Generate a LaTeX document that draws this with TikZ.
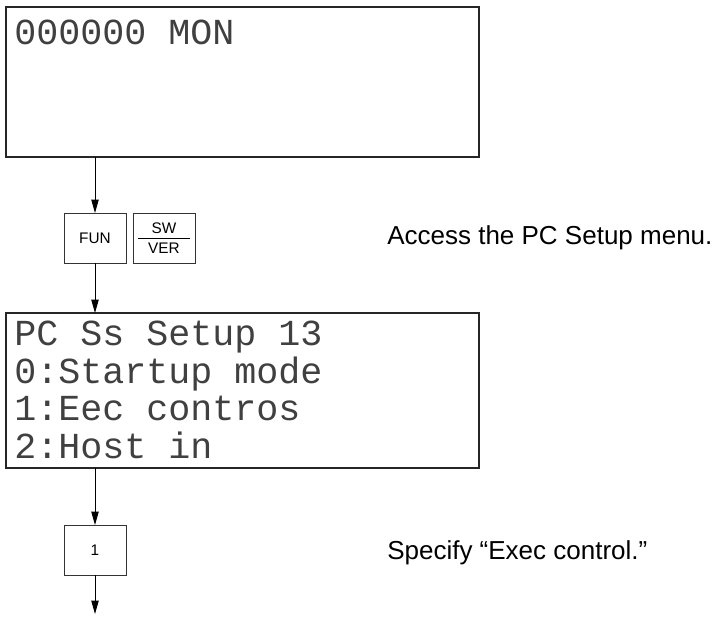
\documentclass[tikz,border=0pt]{standalone}
\usepackage{fontspec}
\setmainfont{Liberation Sans}
\newfontfamily\lcdfont{Liberation Mono}
\usetikzlibrary{arrows.meta}

\begin{document}
\begin{tikzpicture}[x=0.75pt, y=-0.75pt,
  screen/.style={draw=black!85, line width=0.9pt, minimum width=354.75pt, inner sep=0pt, outer sep=0pt},
  key/.style={draw=black!80, line width=0.7pt, minimum width=46.5pt, minimum height=37.5pt, inner sep=0pt, outer sep=0pt, font=\fontsize{11.5}{13.5}\selectfont},
  lcdline/.style={anchor=base west, inner sep=0pt, text=black!75, font=\lcdfont\fontsize{27.5}{28}\selectfont},
  note/.style={anchor=base west, inner sep=0pt, font=\fontsize{19.5}{23}\selectfont},
  flow/.style={-{Triangle[length=10pt, width=5.5pt]}, line width=0.6pt}]
  \useasboundingbox (0,0) rectangle (720,623);
  % Monitor display
  \node[screen, minimum height=112.5pt] (scrMon) at (242.5,82) {};
  \node[lcdline] (lcdMon) at (14,45) {000000 MON};
  % FUN, SW/VER
  \node[key] (keyFun) at (95,238) {FUN};
  \node[key, align=center] (keySw) at (164,238) {SW\\[2pt]VER};
  \draw[line width=0.6pt] ([xshift=3.5pt]keySw.west) -- ([xshift=-3.5pt]keySw.east);
  \node[note] (noteFun) at (387,245) {Access the PC Setup menu.};
  % PC Setup display
  \node[screen, minimum height=116.25pt] (scrSetup) at (242.5,390.5) {};
  \node[lcdline] (lcdA) at (14,345) {PC Ss Setup 13};
  \node[lcdline] (lcdB) at (14,383) {0:Startup mode};
  \node[lcdline] (lcdC) at (14,420) {1:Eec contros};
  \node[lcdline] (lcdD) at (14,458) {2:Host in};
  % 1
  \node[key] (keyOne) at (95,550) {1};
  \node[note] (noteOne) at (387,559) {Specify “Exec control.”};
  \coordinate (done) at (95,614);
  % arrows
  \draw[flow] (scrMon.south -| keyFun) -- (keyFun.north);
  \draw[flow] (keyFun.south) -- (scrSetup.north -| keyFun);
  \draw[flow] (scrSetup.south -| keyOne) -- (keyOne.north);
  \draw[flow] (keyOne.south) -- (done);
\end{tikzpicture}
\end{document}
